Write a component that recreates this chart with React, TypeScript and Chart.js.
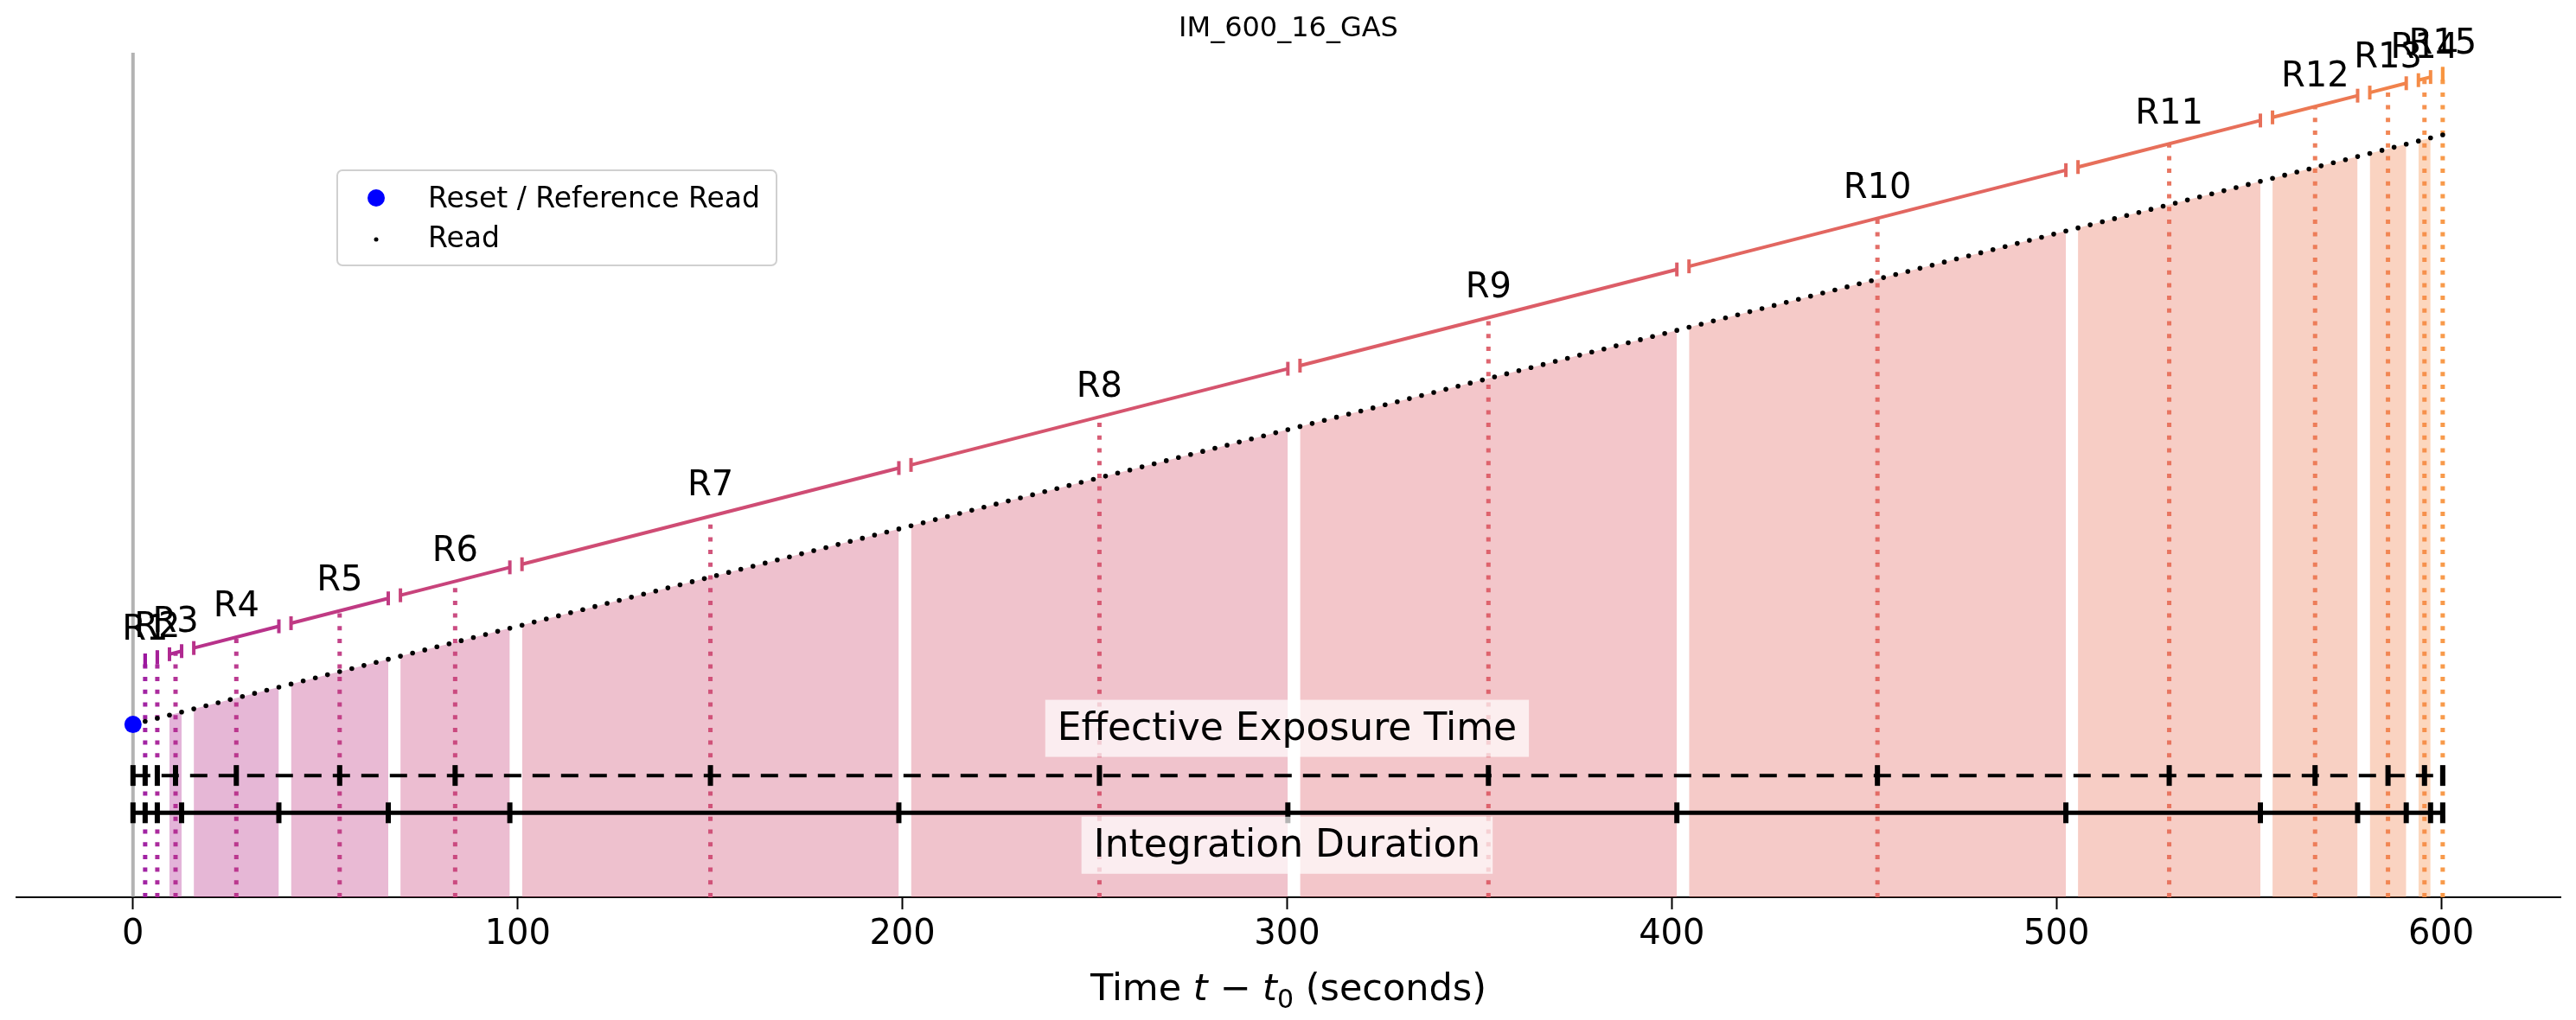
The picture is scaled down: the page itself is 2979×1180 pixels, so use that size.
import React, { useEffect, useRef } from "react";
import { Chart, registerables } from "chart.js";
Chart.register(...registerables);

const TITLE = "IM_600_16_GAS";
const FRAME_TIME = 3.16;
const resultantNames = ["R1","R2","R3","R4","R5","R6","R7","R8","R9","R10","R11","R12","R13","R14","R15"];
const firstFrame = [1, 2, 3, 5, 13, 22, 32, 64, 96, 128, 160, 176, 184, 188, 190];
const lastFrame = [1, 2, 4, 12, 21, 31, 63, 95, 127, 159, 175, 183, 187, 189, 190];
const resultantColors = ["#9c179e","#a62098","#b02991","#b8328a","#c03a83","#c8437b","#cf4c74","#d5546e","#dc5d67","#e26660","#e76f5a","#ec7853","#f1824c","#f58c46","#f89540"];
const SIGNAL_OFFSET = 176;
const UPPER_OFFSET = 62;
const EFF_LEVEL = 124;
const DUR_LEVEL = 86;
const EFF_LABEL_Y = 172;
const DUR_LABEL_Y = 53;
const xTicks = [0, 100, 200, 300, 400, 500, 600];
const X_MIN = -30.3, X_MAX = 631, Y_MAX = 860;
const FONT = "'DejaVu Sans', sans-serif";

function rgba(hex: string, a: number) {
  const n = parseInt(hex.slice(1), 16);
  return `rgba(${(n >> 16) & 255},${(n >> 8) & 255},${n & 255},${a})`;
}

export default function App() {
  const ref = useRef<HTMLCanvasElement>(null);
  useEffect(() => {
    document.body.style.margin = "0";
    const reads = resultantNames.map((_, i) => {
      const r: number[] = [];
      for (let f = firstFrame[i]; f <= lastFrame[i]; f++) r.push(f * FRAME_TIME);
      return r;
    });
    const means = reads.map((r) => r.reduce((a, b) => a + b, 0) / r.length);
    const ends = reads.map((r) => r[r.length - 1]);
    const tEnd = ends[ends.length - 1];
    const diag = (t: number) => t + SIGNAL_OFFSET;
    const upper = (t: number) => diag(t) + UPPER_OFFSET;

    const layers: any[] = [];
    layers.push({ data: [{ x: 0, y: 0 }, { x: 0, y: Y_MAX }], borderColor: "rgba(128,128,128,0.6)", borderWidth: 4, pointRadius: 0 });
    reads.forEach((r, i) => {
      if (r.length < 2) return;
      layers.push({ data: r.map((t) => ({ x: t, y: diag(t) })), fill: "origin", backgroundColor: rgba(resultantColors[i], 0.35), borderWidth: 0, pointRadius: 0 });
    });
    means.forEach((m, i) => {
      layers.push({ data: [{ x: m, y: 0 }, { x: m, y: upper(m) }], borderColor: rgba(resultantColors[i], 0.95), borderWidth: 5, borderDash: [5, 9.7], pointRadius: 0 });
    });
    const allReads = reads.flat();
    layers.push({ type: "scatter", data: allReads.map((t) => ({ x: t, y: diag(t) })), backgroundColor: "#000", borderWidth: 0, pointRadius: 2.8 });
    reads.forEach((r, i) => {
      const a = r[0], b = r[r.length - 1];
      layers.push({ data: [{ x: a, y: upper(a) }, { x: b, y: upper(b) }], borderColor: resultantColors[i], borderWidth: 4, pointStyle: "line", rotation: 90, pointRadius: 8, pointBorderWidth: 4, pointBorderColor: resultantColors[i] });
    });
    layers.push({ data: [{ x: 0, y: EFF_LEVEL }, { x: tEnd, y: EFF_LEVEL }], borderColor: "#000", borderWidth: 4, borderDash: [20, 13], pointRadius: 0 });
    layers.push({ type: "scatter", data: [0, ...means].map((t) => ({ x: t, y: EFF_LEVEL })), pointStyle: "line", rotation: 90, pointRadius: 12, pointBorderWidth: 6, pointBorderColor: "#000" });
    layers.push({ data: [{ x: 0, y: DUR_LEVEL }, { x: tEnd, y: DUR_LEVEL }], borderColor: "#000", borderWidth: 5, pointRadius: 0 });
    layers.push({ type: "scatter", data: [0, ...ends].map((t) => ({ x: t, y: DUR_LEVEL })), pointStyle: "line", rotation: 90, pointRadius: 12, pointBorderWidth: 6, pointBorderColor: "#000" });
    layers.push({ type: "scatter", data: [{ x: 0, y: SIGNAL_OFFSET }], backgroundColor: "#0000ff", borderWidth: 0, pointRadius: 10 });

    const datasets = layers.map((d) => ({ showLine: d.type !== "scatter", ...d, type: d.type || "line", fill: d.fill || false })).reverse();

    const textPlugin = {
      id: "texts",
      afterDatasetsDraw(chart: any) {
        const ctx = chart.ctx;
        const xs = chart.scales.x, ys = chart.scales.y;
        ctx.save();
        ctx.fillStyle = "#000";
        ctx.font = `40px ${FONT}`;
        ctx.textAlign = "center";
        ctx.textBaseline = "bottom";
        means.forEach((m, i) => {
          ctx.fillText(resultantNames[i], xs.getPixelForValue(m), ys.getPixelForValue(upper(m)) - 14);
        });
        const boxed = (txt: string, t: number, y: number) => {
          ctx.font = `44px ${FONT}`;
          const w = ctx.measureText(txt).width + 28;
          const h = 66;
          const px = xs.getPixelForValue(t), py = ys.getPixelForValue(y);
          ctx.fillStyle = "rgba(255,255,255,0.7)";
          ctx.fillRect(px - w / 2, py - h / 2, w, h);
          ctx.fillStyle = "#000";
          ctx.textAlign = "center";
          ctx.textBaseline = "middle";
          ctx.fillText(txt, px, py + 2);
        };
        boxed("Effective Exposure Time", 300, EFF_LABEL_Y);
        boxed("Integration Duration", 300, DUR_LABEL_Y);
        ctx.font = `32px ${FONT}`;
        ctx.fillStyle = "#000";
        ctx.textAlign = "center";
        ctx.textBaseline = "middle";
        ctx.fillText(TITLE, (chart.chartArea.left + chart.chartArea.right) / 2, 34);
        const parts: [string, string, number][] = [
          ["Time ", `43px ${FONT}`, 0],
          ["t", `oblique 43px ${FONT}`, 0],
          [" − ", `43px ${FONT}`, 0],
          ["t", `oblique 43px ${FONT}`, 0],
          ["0", `30px ${FONT}`, 9],
          [" (seconds)", `43px ${FONT}`, 0],
        ];
        let total = 0;
        parts.forEach(([s, f]) => { ctx.font = f; total += ctx.measureText(s).width; });
        let cx = (chart.chartArea.left + chart.chartArea.right) / 2 - total / 2;
        ctx.textAlign = "left";
        ctx.textBaseline = "alphabetic";
        parts.forEach(([s, f, dy]) => { ctx.font = f; ctx.fillText(s, cx, 1157 + dy); cx += ctx.measureText(s).width; });
        ctx.fillStyle = "rgba(255,255,255,0.8)";
        ctx.strokeStyle = "#d0d0d0";
        ctx.lineWidth = 2;
        ctx.beginPath();
        (ctx as any).roundRect(390, 197, 508, 110, 6);
        ctx.fill();
        ctx.stroke();
        ctx.fillStyle = "#0000ff";
        ctx.beginPath();
        ctx.arc(435, 229, 10, 0, Math.PI * 2);
        ctx.fill();
        ctx.fillStyle = "#000";
        ctx.beginPath();
        ctx.arc(435, 277, 2.5, 0, Math.PI * 2);
        ctx.fill();
        ctx.font = `33px ${FONT}`;
        ctx.textAlign = "left";
        ctx.textBaseline = "middle";
        ctx.fillText("Reset / Reference Read", 495, 231);
        ctx.fillText("Read", 495, 277);
        ctx.restore();
      },
    };

    const chart = new Chart(ref.current!, {
      type: "line",
      data: { datasets: datasets as any },
      options: {
        animation: false,
        responsive: false,
        devicePixelRatio: 1,
        parsing: false as any,
        layout: { padding: { left: 19, right: 5, top: 61, bottom: 0 } },
        plugins: { legend: { display: false }, tooltip: { enabled: false }, title: { display: false } },
        elements: { line: { tension: 0 } },
        scales: {
          x: {
            type: "linear",
            min: X_MIN,
            max: X_MAX,
            afterBuildTicks: (s: any) => { s.ticks = xTicks.map((v) => ({ value: v })); },
            afterFit: (s: any) => { s.height = 142; },
            ticks: { font: { family: FONT, size: 40 }, color: "#000", padding: 6, maxRotation: 0 },
            grid: { drawOnChartArea: false, drawTicks: true, tickLength: 14, tickWidth: 2, tickColor: "#000" },
            border: { display: true, color: "#000", width: 2 },
            title: { display: false },
          },
          y: { type: "linear", min: 0, max: Y_MAX, display: false },
        },
      },
      plugins: [textPlugin],
    } as any);
    return () => chart.destroy();
  }, []);
  return <canvas ref={ref} width={2979} height={1180} style={{ display: "block", width: 2979, height: 1180 }} />;
}
